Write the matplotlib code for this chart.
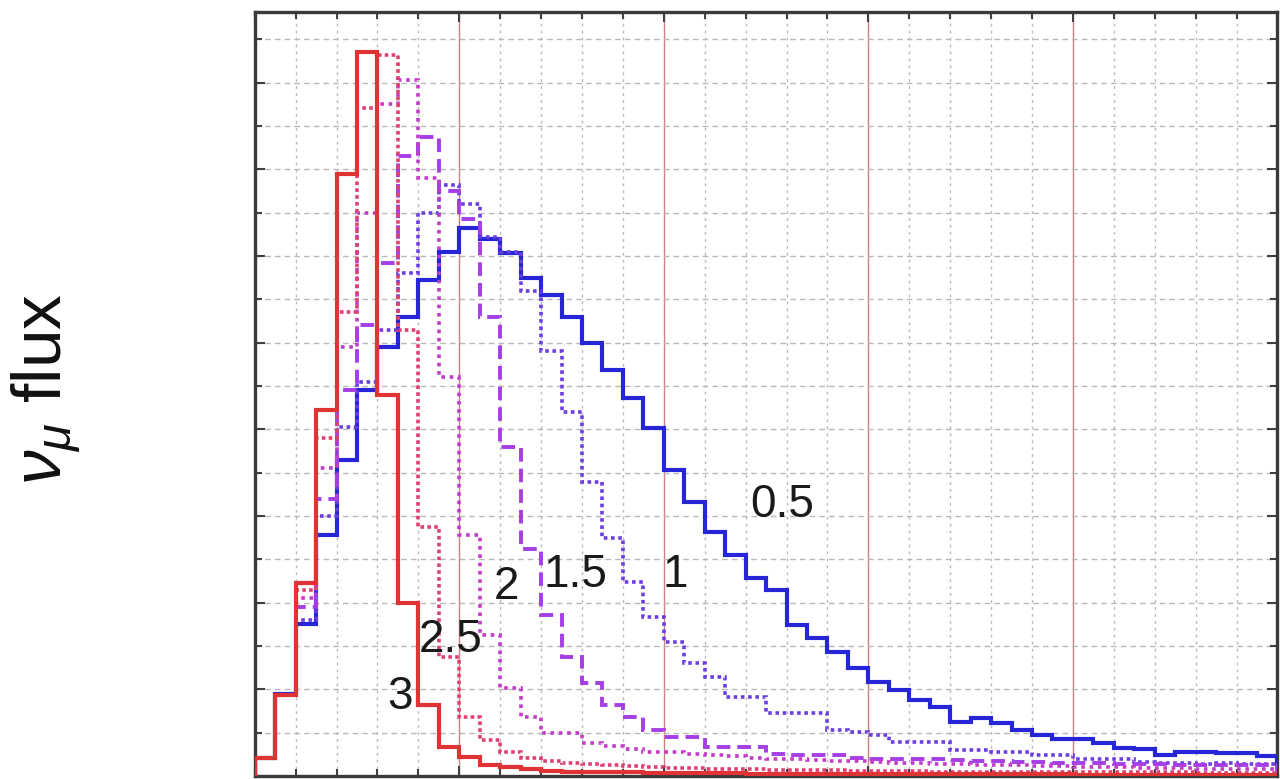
import matplotlib
matplotlib.use("Agg")
import matplotlib.pyplot as plt
import numpy as np
from matplotlib.ticker import MultipleLocator, NullFormatter

plt.rcParams["font.family"] = ["Liberation Sans", "DejaVu Sans"]
plt.rcParams["mathtext.fontset"] = "custom"
plt.rcParams["mathtext.rm"] = "Liberation Sans"
plt.rcParams["mathtext.it"] = "Liberation Sans:italic"

# bin edges (arbitrary energy units, 50 bins)
edges = np.arange(0, 25.01, 0.5)

# flux per bin for each off-axis angle
flux_05 = [0.42, 1.9, 3.5, 5.57, 7.3, 8.9, 9.9, 10.6, 11.45, 12.1,
           12.65, 12.4, 12.08, 11.5, 11.1, 10.6, 10.0, 9.38, 8.73, 8.04,
           7.07, 6.33, 5.64, 5.1, 4.57, 4.3, 3.49, 3.19, 2.86, 2.49,
           2.17, 1.99, 1.75, 1.59, 1.25, 1.34, 1.22, 1.06, 0.95, 0.85,
           0.85, 0.76, 0.65, 0.62, 0.48, 0.55, 0.55, 0.53, 0.53, 0.46]
flux_1 = [0.42, 1.87, 3.6, 6.0, 8.05, 9.1, 10.3, 11.6, 13.0, 13.65,
          13.2, 12.45, 12.1, 11.2, 9.8, 8.4, 6.79, 5.5, 4.48, 3.67,
          3.09, 2.61, 2.29, 1.82, 1.82, 1.45, 1.45, 1.45, 1.06, 1.02,
          0.95, 0.79, 0.79, 0.79, 0.6, 0.6, 0.55, 0.55, 0.48, 0.48,
          0.4, 0.4, 0.4, 0.32, 0.3, 0.3, 0.28, 0.3, 0.27, 0.28]
flux_15 = [0.42, 1.87, 3.9, 6.4, 8.9, 10.4, 11.85, 14.3, 14.75, 13.5,
           12.85, 10.6, 7.6, 5.24, 3.72, 2.75, 2.15, 1.64, 1.36, 1.06,
           0.9, 0.9, 0.67, 0.67, 0.67, 0.5, 0.48, 0.48, 0.48, 0.42,
           0.4, 0.4, 0.38, 0.38, 0.36, 0.35, 0.34, 0.33, 0.32, 0.3,
           0.3, 0.29, 0.28, 0.27, 0.27, 0.26, 0.25, 0.25, 0.24, 0.24]
flux_2 = [0.42, 1.87, 4.1, 7.1, 9.9, 13.0, 15.5, 16.07, 13.8, 9.2,
          5.57, 3.26, 2.03, 1.36, 1.0, 1.0, 0.76, 0.7, 0.62, 0.55,
          0.55, 0.5, 0.48, 0.45, 0.42, 0.4, 0.38, 0.36, 0.35, 0.34,
          0.32, 0.3, 0.3, 0.28, 0.27, 0.26, 0.25, 0.24, 0.23, 0.22,
          0.21, 0.2, 0.2, 0.19, 0.18, 0.18, 0.17, 0.17, 0.16, 0.16]
flux_25 = [0.42, 1.87, 4.3, 7.8, 10.7, 15.42, 16.65, 10.3, 5.75, 2.75,
           1.36, 0.83, 0.55, 0.42, 0.35, 0.3, 0.27, 0.25, 0.22, 0.2,
           0.19, 0.18, 0.17, 0.16, 0.15, 0.14, 0.14, 0.13, 0.13, 0.12,
           0.12, 0.11, 0.11, 0.1, 0.1, 0.1, 0.1, 0.09, 0.09, 0.09,
           0.09, 0.08, 0.08, 0.08, 0.08, 0.08, 0.07, 0.07, 0.07, 0.07]
flux_3 = [0.42, 1.87, 4.46, 8.45, 13.9, 16.7, 8.8, 4.0, 1.64, 0.67,
          0.44, 0.25, 0.2, 0.15, 0.12, 0.1, 0.1, 0.08, 0.08, 0.07,
          0.07, 0.06, 0.06, 0.06, 0.05, 0.05, 0.05, 0.05, 0.05, 0.05,
          0.04, 0.04, 0.04, 0.04, 0.04, 0.04, 0.04, 0.04, 0.04, 0.04,
          0.03, 0.03, 0.03, 0.03, 0.03, 0.03, 0.03, 0.03, 0.03, 0.03]

angles = ["0.5", "1", "1.5", "2", "2.5", "3"]
series = [flux_05, flux_1, flux_15, flux_2, flux_25, flux_3]
label_x = [12.9, 10.27, 7.85, 6.16, 4.79, 3.55]
label_y = [6.26, 4.64, 4.64, 4.36, 3.14, 1.82]

colors = ["#2626d6", "#6a3ee0", "#a63ee6", "#c23cc8", "#e0406e", "#e03434"]
styles = ["-", (0, (1, 1.0)), (0, (3.5, 1.8)), (0, (1, 1.3)), (0, (1, 0.9)), "-"]
widths = [3.0, 2.6, 2.8, 2.6, 2.6, 3.0]

fig = plt.figure(figsize=(12.8, 7.79), dpi=100)
ax = fig.add_axes([0.199, 0.004, 0.799, 0.981])

for vals, c, ls, lw in zip(series, colors, styles, widths):
    ax.stairs(vals, edges, color=c, linestyle=ls, linewidth=lw, zorder=3)

for lab, lx, ly in zip(angles, label_x, label_y):
    ax.text(lx, ly, lab, fontsize=33, color="#1a1a1a", ha="center", va="center", zorder=4)

ax.set_xlim(0, 25)
ax.set_ylim(0, 17.64)
ax.xaxis.set_major_locator(MultipleLocator(5))
ax.xaxis.set_minor_locator(MultipleLocator(1))
ax.yaxis.set_major_locator(MultipleLocator(2))
ax.yaxis.set_minor_locator(MultipleLocator(1))
ax.xaxis.set_major_formatter(NullFormatter())
ax.yaxis.set_major_formatter(NullFormatter())

ax.xaxis.grid(True, which="major", color="#c98080", linestyle="-", linewidth=1.0)
ax.xaxis.grid(True, which="minor", color="#b8b8b8", linestyle=(0, (2, 3)), linewidth=1.0)
ax.yaxis.grid(True, which="both", color="#b8b8b8", linestyle=(0, (4, 3)), linewidth=1.0)
ax.set_axisbelow(True)

ax.tick_params(which="both", direction="in", top=True, right=True, color="#404040")
ax.tick_params(which="major", length=7, width=1.5)
ax.tick_params(which="minor", length=5, width=1.5)
for s in ax.spines.values():
    s.set_color("#3a3a3a")
    s.set_linewidth(2.4)

fig.text(0.036, 0.5, r"$\nu_{\mu}$ flux", rotation=90, fontsize=50,
         ha="center", va="center", color="#111111")

fig.savefig("out.png", dpi=100)
